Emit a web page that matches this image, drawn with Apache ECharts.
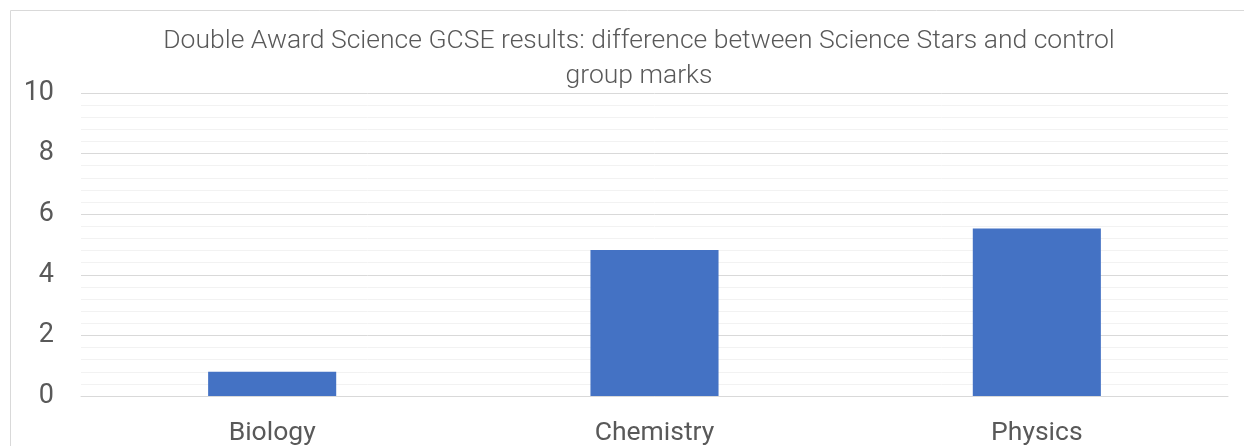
<!DOCTYPE html>
<html>
<head>
<meta charset="utf-8">
<script src="https://cdn.jsdelivr.net/npm/echarts@6/dist/echarts.min.js"></script>
<style>
  html, body { margin: 0; padding: 0; background: #fff; }
  #chart { width: 1244px; height: 446px; }
</style>
</head>
<body>
<div id="chart"></div>
<script>
// data
var categories = ['Biology', 'Chemistry', 'Physics'];
var differences = [0.8, 4.82, 5.53];
var titleText = 'Double Award Science GCSE results: difference between Science Stars and control\ngroup marks';

var chart = echarts.init(document.getElementById('chart'));
chart.setOption({
    animation: false,
    title: {
        text: titleText,
        left: 634,
        top: 19,
        textAlign: 'center',
        textStyle: {
            fontFamily: 'Roboto',
            fontWeight: 300,
            fontSize: 26.5,
            lineHeight: 35,
            color: '#595959'
        }
    },
    graphic: [{
        type: 'rect',
        shape: { x: 10.5, y: 10.5, width: 1300, height: 500 },
        style: { fill: 'none', stroke: '#d9d9d9', lineWidth: 1 },
        silent: true
    }],
    grid: {
        left: 81, right: 16, top: 93, bottom: 50,
        containLabel: false,
        outerBoundsMode: 'none'
    },
    xAxis: {
        type: 'category',
        data: categories,
        axisTick: { show: false },
        axisLine: { lineStyle: { color: '#d9d9d9', width: 1 } },
        axisLabel: {
            color: '#595959',
            fontFamily: 'Roboto',
            fontSize: 26.5,
            margin: 24
        }
    },
    yAxis: {
        type: 'value',
        min: 0,
        max: 10,
        interval: 2,
        axisLine: { show: false },
        axisTick: { show: false },
        axisLabel: {
            color: '#595959',
            fontFamily: 'Roboto',
            fontSize: 27,
            margin: 27
        },
        splitLine: { lineStyle: { color: '#d9d9d9', width: 1 } },
        minorTick: { show: false, splitNumber: 5 },
        minorSplitLine: { show: true, lineStyle: { color: '#f2f2f2', width: 1 } }
    },
    series: [{
        type: 'bar',
        data: differences,
        barWidth: '33.5%',
        itemStyle: { color: '#4472c4' }
    }]
});
</script>
</body>
</html>
